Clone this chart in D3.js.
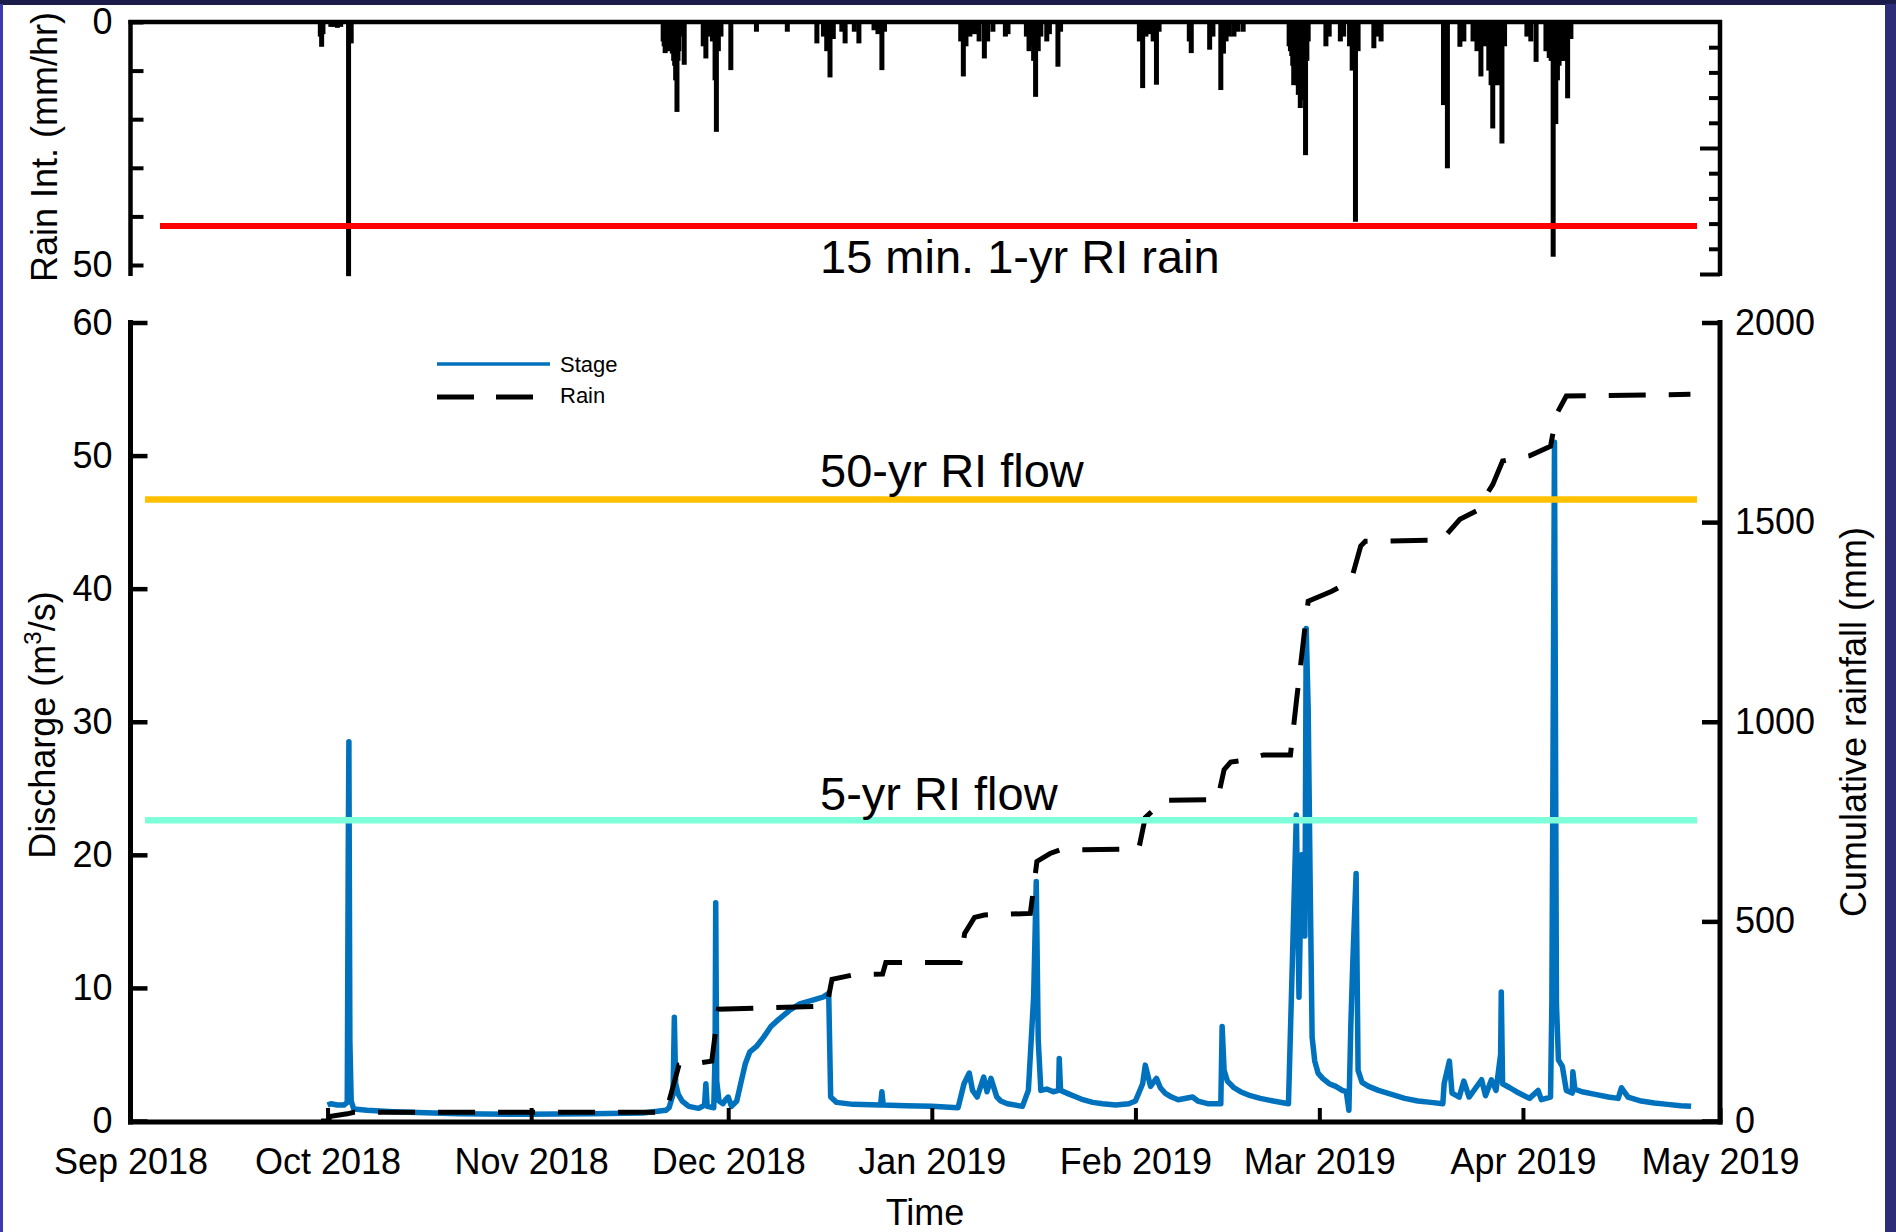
<!DOCTYPE html>
<html>
<head>
<meta charset="utf-8">
<script src="https://cdn.jsdelivr.net/npm/d3@7"></script>
<style>
  html, body { margin: 0; padding: 0; background: #1e1e50; }
  svg { display: block; }
  text { font-family: "Liberation Sans", Arial, Helvetica, sans-serif; fill: #000; }
</style>
</head>
<body>
<svg id="chart" width="1896" height="1232"></svg>
<script>
// Time is stored as days elapsed since 1 Sep 2018 (UTC).

// Monthly tick positions on the shared time axis
const monthTicks = ["2018-09-01","2018-10-01","2018-11-01","2018-12-01","2019-01-01",
                    "2019-02-01","2019-03-01","2019-04-01","2019-05-01"];

// Rain intensity, mm/hr: [day, intensity]
const rainIntensity = [
  [28.9,3.0],[29.1,5.1],[29.3,2.5],[30.5,1.0],[31.0,1.0],[31.5,1.2],[32.0,1.0],[33.2,52.3],[33.6,4.4],
  [81.1,4.0],[81.25,5.0],[81.4,6.4],[81.55,6.0],[81.7,5.5],[81.85,5.5],[82.0,6.0],[82.15,5.0],[82.3,4.5],
  [82.5,6.5],[82.7,8.0],[82.85,9.0],[83.0,12.0],[83.2,18.5],[83.35,8.0],[83.5,6.0],
  [83.8,3.0],[84.3,8.8],[87.2,5.0],[87.6,7.5],[88.2,3.0],[88.6,4.0],[89.0,12.0],[89.2,22.6],[89.5,6.0],
  [89.9,3.0],[91.4,9.9],
  [95.3,2.0],[100.0,2.0],[104.5,4.4],[105.5,3.0],[106.0,6.0],[106.5,11.4],[107.0,3.5],[108.3,2.0],
  [108.8,4.4],[110.2,2.0],[110.9,4.4],[113.2,1.7],[113.8,2.5],[114.4,9.9],[114.8,2.0],
  [126.4,4.0],[126.8,11.2],[127.2,5.0],[127.8,3.0],[128.5,2.5],[129.2,4.0],[130.0,7.5],[130.5,4.0],
  [131.3,2.0],[133.2,3.0],[133.6,2.5],
  [136.4,3.0],[136.8,6.0],[137.2,5.0],[137.5,8.0],[137.8,15.4],[138.2,6.0],[138.6,3.0],[139.5,4.0],
  [139.9,2.5],[141.2,9.2],[141.6,2.0],
  [153.6,4.0],[154.1,13.6],[154.6,3.0],[155.2,2.5],[155.7,4.0],[156.2,12.9],[156.6,2.0],
  [161.2,4.0],[161.5,6.4],[164.3,5.7],[164.8,3.0],[166.0,14.0],[166.4,6.5],[166.8,4.0],[167.3,3.0],
  [168.0,3.0],[168.6,2.0],[169.4,2.0],
  [176.4,5.0],[176.6,6.0],[176.8,7.0],[176.95,9.0],[177.1,13.0],[177.3,12.0],[177.5,12.0],[177.65,13.0],
  [177.8,15.0],[178.1,17.7],[178.3,14.0],[178.5,12.0],[178.7,16.0],[178.9,27.4],[179.1,8.0],
  [179.3,4.0],[182.0,5.0],[182.5,3.0],[184.2,4.0],[184.7,3.0],
  [185.6,5.0],[186.0,10.0],[186.5,41.1],[186.9,6.0],[189.3,5.4],[189.8,3.0],[190.4,4.0],
  [199.9,17.1],[200.5,30.1],[202.4,5.1],[203.0,4.0],
  [204.4,4.0],[205.0,6.0],[205.6,11.2],[206.2,5.0],[206.8,10.0],[207.15,13.0],[207.4,21.9],[207.65,12.0],
  [207.9,13.0],[208.15,13.0],[208.4,12.0],[208.6,12.0],
  [208.8,25.0],[209.2,5.0],[212.6,3.0],[213.2,4.0],[214.0,8.2],
  [215.5,6.0],[215.75,6.0],[216.0,7.4],[216.3,8.0],[216.6,48.3],[216.8,14.0],[217.0,21.0],[217.25,12.0],
  [217.5,9.0],[217.75,8.0],[218.0,8.0],[218.3,7.0],[218.55,8.0],[218.8,15.7],[219.3,3.5]
];

// Stage-derived discharge, m^3/s: [day, discharge]
const discharge = [
  [30.0,1.2],[30.5,1.3],[31.5,1.2],[32.5,1.2],[33.0,1.4],[33.15,20],[33.25,28.5],[33.4,6.0],[33.6,1.5],
  [34.0,0.9],[36,0.8],[40,0.7],[50,0.55],[60,0.5],[70,0.55],[78,0.6],[81.5,0.8],[82.0,1.0],[82.6,2.0],
  [82.8,7.8],[83.0,2.8],[83.4,2.0],[84,1.5],[85,1.1],[86.5,0.95],[87.4,1.2],[87.6,2.8],[87.8,1.1],
  [88.8,1.0],[89.0,5.0],[89.1,16.4],[89.25,3.0],[89.6,1.5],[90.2,1.3],[90.6,1.6],[91.0,1.8],[91.5,1.1],
  [92.3,1.5],[92.9,2.8],[93.6,4.3],[94.3,5.2],[95.3,5.6],[96.4,6.3],[97.5,7.1],[98.6,7.6],[100.3,8.3],
  [101.9,8.8],[104,9.1],[105.4,9.3],[106.3,9.6],[106.6,1.8],[107.5,1.4],[110,1.25],[114.2,1.2],[114.4,2.2],
  [114.6,1.2],[118,1.15],[122,1.1],[126,1.0],[126.9,2.8],[127.7,3.6],[128.2,2.3],[128.9,1.8],[129.9,3.3],
  [130.4,2.2],[131.0,3.2],[131.9,1.8],[132.5,1.5],[133.5,1.3],[135.8,1.1],[136.7,2.3],[137.5,9.3],[137.9,18.0],
  [138.2,6.1],[138.6,2.3],[139.5,2.4],[140.5,2.2],[141.3,2.3],[141.4,4.7],[141.6,2.3],[143,2.0],[144,1.8],
  [145,1.6],[146.5,1.4],[148,1.3],[150,1.2],[152,1.3],[153,1.5],[154.1,2.8],[154.5,4.2],[155.3,2.6],
  [156.2,3.2],[156.8,2.5],[157.5,2.1],[158.5,1.8],[159.5,1.6],[161.7,1.8],[162.5,1.5],[164,1.3],
  [166.0,1.3],[166.2,7.1],[166.5,3.8],[167,3.0],[168,2.5],[169,2.2],[170.5,1.9],[172,1.7],[174,1.5],
  [176.3,1.3],[176.9,12.1],[177.5,23],[177.9,9.3],[178.3,20],[178.8,13.9],[179.0,37],[179.3,31],
  [179.6,18],[179.9,6.3],[180.3,4.5],[180.8,3.6],[181.5,3.2],[182.5,2.8],[183.5,2.6],[184.5,2.3],
  [185.1,2.2],[185.5,0.8],[185.8,7.3],[186.1,12],[186.6,18.6],[186.9,3.8],[187.5,2.9],[188.5,2.6],
  [190,2.3],[192,2.0],[194,1.7],[196,1.5],[198,1.4],[199.8,1.3],[200.0,2.8],[200.8,4.5],[201.2,2.1],
  [202.3,1.8],[203.0,3.0],[203.8,1.8],[205.7,3.1],[206.3,1.9],[207.2,3.1],[207.9,2.3],[208.6,5],
  [208.7,9.7],[208.9,2.8],[210,2.5],[211,2.2],[213,1.7],[214.3,2.3],[214.8,1.6],[216.2,1.8],[216.4,8.8],
  [216.8,51],[217.1,8.8],[217.4,4.6],[218.0,4.1],[218.6,2.3],[219.5,2.1],[219.6,3.7],[219.9,2.4],
  [221,2.2],[223,2.0],[225,1.8],[226.5,1.7],[227.0,2.5],[228,1.8],[230,1.5],[232,1.35],[234,1.25],
  [236,1.15],[237.6,1.1]
];

// Cumulative rainfall, mm: [day, total]
const cumulativeRain = [
  [29.0,0],[30.0,0],[30.5,12],[33.0,18],[34.0,22],[81.5,22],[82.0,50],[83.5,140],[86.5,145],[88.5,150],
  [89.5,280],[106.0,288],[106.8,355],[110.0,366],[114.5,368],[115.0,397],[126.3,397],[127.0,470],
  [128.5,510],[130.0,516],[137.0,520],[138.0,650],[140.0,670],[141.5,679],[153.5,681],[154.5,760],
  [156.5,790],[157.0,803],[165.5,805],[166.5,880],[167.5,899],[170.0,905],[172.5,917],[176.6,917],
  [177.5,1050],[178.8,1235],[179.3,1302],[182.9,1327],[185.8,1352],[187.3,1440],[188.0,1452],
  [199.6,1455],[202.4,1507],[204.9,1528],[207.4,1594],[208.9,1653],[213.0,1666],[216.2,1690],
  [217.1,1770],[218.6,1816],[237.5,1820]
];

// Recurrence-interval thresholds
const flow5yr = 22.6;        // m^3/s
const flow50yr = 46.7;       // m^3/s
const rain1yr15min = 42;     // mm/hr

// Axis tick values
const dischargeTicks = [0, 10, 20, 30, 40, 50, 60];
const cumulativeTicks = [0, 500, 1000, 1500, 2000];
const intensityTicks = [0, 10, 20, 30, 40, 50];
const intensityMinorTicks = [5, 10, 15, 20, 25, 30, 35, 40, 45, 50];

// ---------------------------------------------------------------------------
const svg = d3.select("#chart");
const W = 1896, H = 1232;
const t0 = Date.UTC(2018, 8, 1);
const toDate = d => new Date(t0 + d * 864e5);
const FONT = "Liberation Sans, Arial, sans-serif";

// Page frame
svg.append("rect").attr("width", W).attr("height", H).attr("fill", "#1c1c4a");
svg.append("rect").attr("x", 0).attr("y", 4).attr("width", 3).attr("height", H - 4).attr("fill", "#3a3aae");
svg.append("rect").attr("x", 1885).attr("y", 4).attr("width", 11).attr("height", H - 4).attr("fill", "#2c2c78");
svg.append("rect").attr("x", 3).attr("y", 5).attr("width", 1882).attr("height", H - 5).attr("fill", "#ffffff");

const L = 130.5, R = 1720;
const x = d3.scaleUtc()
  .domain([new Date(monthTicks[0]), new Date(monthTicks[monthTicks.length - 1])])
  .range([L, R]);

// ---------------- Top panel: rain intensity (inverted) ----------------
const topY0 = 22;
const yTop = d3.scaleLinear().domain([0, 50]).range([topY0, 265]);
const yTopRight = d3.scaleLinear().domain([0, 50]).range([topY0, 274]);

const topG = svg.append("g");
topG.selectAll("rect.bar").data(rainIntensity).join("rect")
  .attr("class", "bar")
  .attr("x", d => x(toDate(d[0])) - 2.5)
  .attr("width", 5)
  .attr("y", topY0)
  .attr("height", d => yTop(d[1]) - topY0)
  .attr("fill", "#000");

// Panel frame lines
topG.append("line").attr("x1", L - 2).attr("x2", R + 2).attr("y1", topY0).attr("y2", topY0)
  .attr("stroke", "#000").attr("stroke-width", 4.5);
topG.append("line").attr("x1", L).attr("x2", L).attr("y1", topY0 - 2).attr("y2", 276)
  .attr("stroke", "#000").attr("stroke-width", 4.5);
topG.append("line").attr("x1", R).attr("x2", R).attr("y1", topY0 - 2).attr("y2", 276)
  .attr("stroke", "#000").attr("stroke-width", 4.5);

const topLeftAxis = topG.append("g").attr("transform", `translate(${L},0)`)
  .call(d3.axisLeft(yTop).tickValues(intensityTicks)
    .tickFormat(d => (d === 0 || d === 50) ? d : "")
    .tickSizeInner(-13).tickSizeOuter(0).tickPadding(18));
const topRightAxis = topG.append("g").attr("transform", `translate(${R},0)`)
  .call(d3.axisRight(yTopRight).tickValues(intensityMinorTicks).tickFormat("")
    .tickSizeInner(-11).tickSizeOuter(0));
topRightAxis.selectAll(".tick line").filter(d => d === 25 || d === 50).attr("x2", -20);
[topLeftAxis, topRightAxis].forEach(g => {
  g.select(".domain").remove();
  g.selectAll(".tick line").attr("stroke", "#000").attr("stroke-width", 4);
  g.selectAll("text").attr("font-size", 36).attr("font-family", FONT).attr("fill", "#000");
});

// 15-min 1-yr RI rain threshold
topG.append("line")
  .attr("x1", 160).attr("x2", 1697)
  .attr("y1", yTop(rain1yr15min)).attr("y2", yTop(rain1yr15min))
  .attr("stroke", "#ff0000").attr("stroke-width", 6);
topG.append("text").attr("x", 820).attr("y", 273).attr("font-size", 47)
  .text("15 min. 1-yr RI rain");

svg.append("text")
  .attr("transform", "translate(57,147) rotate(-90)")
  .attr("text-anchor", "middle").attr("font-size", 36)
  .text("Rain Int. (mm/hr)");

// ---------------- Bottom panel: discharge and cumulative rain ----------------
const yQ = d3.scaleLinear().domain([0, 60]).range([1121, 322.5]);
const yC = d3.scaleLinear().domain([0, 2000]).range([1121, 322.5]);
const botG = svg.append("g");

const qLine = d3.line().x(d => x(toDate(d[0]))).y(d => yQ(d[1]));
const cLine = d3.line().x(d => x(toDate(d[0]))).y(d => yC(d[1]));

botG.append("path").datum(discharge)
  .attr("d", qLine).attr("fill", "none")
  .attr("stroke", "#0072bd").attr("stroke-width", 5.5).attr("stroke-linejoin", "round");

botG.append("path").datum(cumulativeRain)
  .attr("d", cLine).attr("fill", "none")
  .attr("stroke", "#000").attr("stroke-width", 5)
  .attr("stroke-dasharray", "37,23");

// Recurrence-interval flow lines
[[flow50yr, "#ffc000", "50-yr RI flow", 487], [flow5yr, "#7fffd9", "5-yr RI flow", 810]]
  .forEach(([v, col, label, ty]) => {
    botG.append("line").attr("x1", 145).attr("x2", 1697)
      .attr("y1", yQ(v)).attr("y2", yQ(v))
      .attr("stroke", col).attr("stroke-width", 6.5);
    botG.append("text").attr("x", 820).attr("y", ty).attr("font-size", 47).text(label);
  });

// Axis frame lines
botG.append("line").attr("x1", L).attr("x2", L).attr("y1", 320).attr("y2", 1124.5)
  .attr("stroke", "#000").attr("stroke-width", 5);
botG.append("line").attr("x1", R).attr("x2", R).attr("y1", 320).attr("y2", 1124.5)
  .attr("stroke", "#000").attr("stroke-width", 5);
botG.append("line").attr("x1", L - 2.5).attr("x2", R + 2.5).attr("y1", 1122).attr("y2", 1122)
  .attr("stroke", "#000").attr("stroke-width", 5);

const leftAxis = botG.append("g").attr("transform", `translate(${L},0)`)
  .call(d3.axisLeft(yQ).tickValues(dischargeTicks).tickSizeInner(-17).tickSizeOuter(0).tickPadding(18));
const rightAxis = botG.append("g").attr("transform", `translate(${R},0)`)
  .call(d3.axisRight(yC).tickValues(cumulativeTicks).tickFormat(d3.format("d"))
    .tickSizeInner(-18).tickSizeOuter(0).tickPadding(15));
const bottomAxis = botG.append("g").attr("transform", "translate(0,1122)")
  .call(d3.axisBottom(x).tickValues(monthTicks.map(s => new Date(s)))
    .tickFormat(d3.utcFormat("%b %Y")).tickSizeInner(-14).tickSizeOuter(0).tickPadding(26));
[leftAxis, rightAxis, bottomAxis].forEach(g => {
  g.select(".domain").remove();
  g.selectAll(".tick line").attr("stroke", "#000").attr("stroke-width", 4.5);
  g.selectAll("text").attr("font-size", 36).attr("font-family", FONT).attr("fill", "#000");
});
bottomAxis.selectAll(".tick line").attr("stroke-width", 4);

// Axis titles
const qTitle = svg.append("text")
  .attr("transform", "translate(55,725) rotate(-90)")
  .attr("text-anchor", "middle").attr("font-size", 36);
qTitle.append("tspan").text("Discharge (m");
qTitle.append("tspan").attr("font-size", 24).attr("dy", -14).text("3");
qTitle.append("tspan").attr("dy", 14).text("/s)");

svg.append("text")
  .attr("transform", "translate(1866,722) rotate(-90)")
  .attr("text-anchor", "middle").attr("font-size", 36)
  .text("Cumulative rainfall (mm)");

svg.append("text").attr("x", 925).attr("y", 1225)
  .attr("text-anchor", "middle").attr("font-size", 36).text("Time");

// Legend
const leg = svg.append("g");
leg.append("line").attr("x1", 437).attr("x2", 550).attr("y1", 364).attr("y2", 364)
  .attr("stroke", "#0072bd").attr("stroke-width", 3.5);
leg.append("line").attr("x1", 437).attr("x2", 534).attr("y1", 397).attr("y2", 397)
  .attr("stroke", "#000").attr("stroke-width", 5).attr("stroke-dasharray", "37,22");
leg.append("text").attr("x", 560).attr("y", 371.5).attr("font-size", 22).text("Stage");
leg.append("text").attr("x", 560).attr("y", 403).attr("font-size", 22).text("Rain");
</script>
</body>
</html>
